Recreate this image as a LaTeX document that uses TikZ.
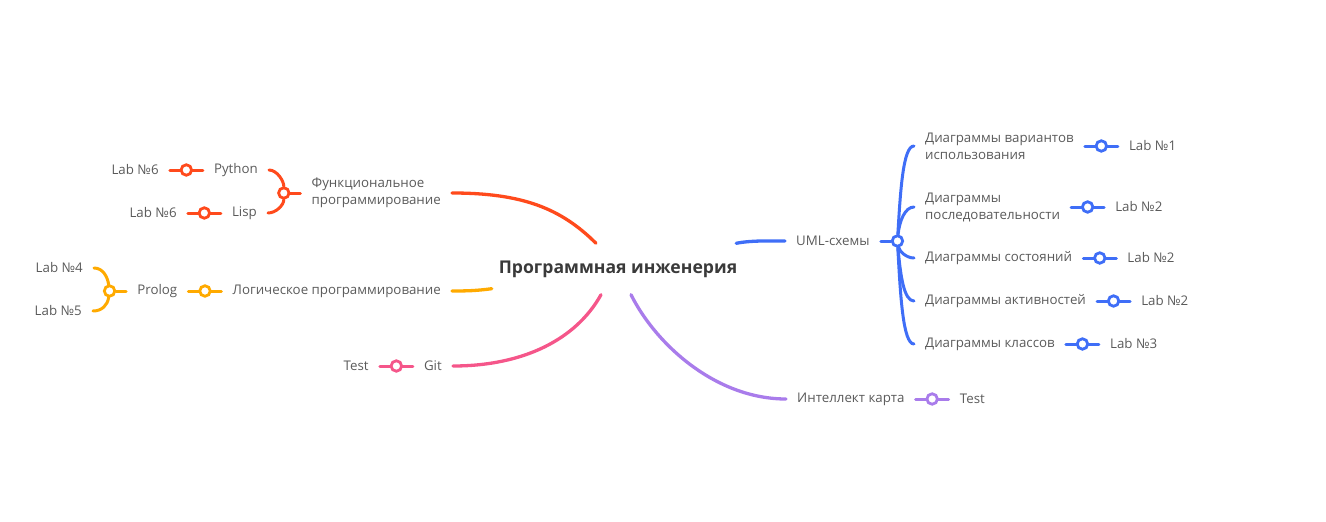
\documentclass[tikz,border=0pt]{standalone}
\usepackage{fontspec}
\setmainfont{Open Sans}
\usetikzlibrary{positioning}
\definecolor{funcred}{HTML}{FF4A1C}
\definecolor{logicorange}{HTML}{FFAA00}
\definecolor{gitpink}{HTML}{F5568A}
\definecolor{mapviolet}{HTML}{A97CEB}
\definecolor{umlblue}{HTML}{3F6EF7}
\definecolor{textgray}{HTML}{5A5A5A}
\definecolor{titlegray}{HTML}{3A3A3A}
\tikzset{
  topic/.style={font=\bfseries\fontsize{17.6}{20}\selectfont, text=titlegray, minimum width=252pt, minimum height=51pt, inner sep=0pt},
  item/.style={font=\fontsize{13.3}{17}\selectfont, text=textgray, inner xsep=11pt, inner ysep=2pt, align=left},
  hub/.style={circle, draw=#1, fill=white, line width=2.8pt, inner sep=0pt, minimum size=10.5pt},
  twig/.style={draw=#1, line width=3pt, line cap=round},
  bough/.style={draw=#1, line width=3.3pt, line cap=round},
}

\begin{document}
\begin{tikzpicture}[x=1pt, y=-1pt]
    \useasboundingbox (0,0) rectangle (1326,522);

    % Central topic
    \node[topic] (title) at (618,269) {Программная инженерия};

    % Main branches
    \node[item, anchor=east] (func) at (452,193) {Функциональное\\программирование};
    \node[item, anchor=east] (logic) at (452,291) {Логическое программирование};
    \node[item, anchor=east] (git) at (453,366) {Git};
    \node[item, anchor=west] (map) at (786,399) {Интеллект карта};
    \node[item, anchor=west] (uml) at (785,241) {UML-схемы};

    \draw[bough=funcred] ([xshift=-22pt]title.north) .. controls +(-35,-35) and +(70,0) .. (func.east);
    \draw[bough=logicorange] ([yshift=6pt]title.south west) .. controls +(-15,2) and +(15,0) .. (logic.east);
    \draw[bough=gitpink] ([xshift=-17pt]title.south) .. controls +(-25,45) and +(70,0) .. (git.east);
    \draw[bough=mapviolet] ([xshift=13pt]title.south) .. controls +(25,50) and +(-70,0) .. (map.west);
    \draw[bough=umlblue] ([xshift=-8pt]title.north east) .. controls +(15,-3) and +(-15,0) .. (uml.west);

    % Functional programming
    \node[hub=funcred, left=10pt of func] (funchub) {};
    \node[item, anchor=east] (python) at (269,170) {Python};
    \node[item, anchor=east] (lisp) at (268,213) {Lisp};
    \node[item, left=33pt of python] (labpy) {Lab №6};
    \node[item, left=33pt of lisp] (lablisp) {Lab №6};
    \draw[twig=funcred] (func.west) -- (funchub);
    \draw[twig=funcred] (funchub) .. controls +(0,-12) and +(8,0) .. (python.east);
    \draw[twig=funcred] (funchub) .. controls +(0,12) and +(8,0) .. (lisp.east);
    \draw[twig=funcred] (labpy) -- node[hub=funcred] (pyhub) {} (python);
    \draw[twig=funcred] (lablisp) -- node[hub=funcred] (lisphub) {} (lisp);

    % Logic programming
    \node[item, left=33pt of logic] (prolog) {Prolog};
    \node[hub=logicorange, left=10pt of prolog] (prologhub) {};
    \node[item, anchor=east] (labfour) at (94,268) {Lab №4};
    \node[item, anchor=east] (labfive) at (93,311) {Lab №5};
    \draw[twig=logicorange] (prolog) -- node[hub=logicorange] (logichub) {} (logic);
    \draw[twig=logicorange] (prolog.west) -- (prologhub);
    \draw[twig=logicorange] (prologhub) .. controls +(-2,-14) and +(9,0) .. (labfour.east);
    \draw[twig=logicorange] (prologhub) .. controls +(-2,14) and +(9,0) .. (labfive.east);

    % Git
    \node[item, left=33pt of git] (gittest) {Test};
    \draw[twig=gitpink] (gittest) -- node[hub=gitpink] (github) {} (git);

    % Mind map
    \node[item, right=33pt of map] (maptest) {Test};
    \draw[twig=mapviolet] (map) -- node[hub=mapviolet] (maphub) {} (maptest);

    % UML diagrams
    \node[hub=umlblue, right=10pt of uml] (umlhub) {};
    \draw[twig=umlblue] (uml.east) -- (umlhub);
    \node[item, anchor=west] (uone) at (914,146) {Диаграммы вариантов\\использования};
    \node[item, anchor=west] (utwo) at (914,207) {Диаграммы\\последовательности};
    \node[item, anchor=west] (uthree) at (914,258) {Диаграммы состояний};
    \node[item, anchor=west] (ufour) at (914,301) {Диаграммы активностей};
    \node[item, anchor=west] (ufive) at (914,344) {Диаграммы классов};
    \draw[twig=umlblue] (umlhub) .. controls +(3,-50) and +(-11,0) .. (uone.west);
    \draw[twig=umlblue] (umlhub) .. controls +(2,-20) and +(-9,0) .. (utwo.west);
    \draw[twig=umlblue] (umlhub) .. controls +(2,10) and +(-8,0) .. (uthree.west);
    \draw[twig=umlblue] (umlhub) .. controls +(3,35) and +(-10,0) .. (ufour.west);
    \draw[twig=umlblue] (umlhub) .. controls +(3,55) and +(-11,0) .. (ufive.west);
    \node[item, right=33pt of uone] (labone) {Lab №1};
    \node[item, right=33pt of utwo] (labtwo) {Lab №2};
    \node[item, right=33pt of uthree] (labthree) {Lab №2};
    \node[item, right=33pt of ufour] (labfour2) {Lab №2};
    \node[item, right=33pt of ufive] (labfive2) {Lab №3};
    \foreach \u/\l in {uone/labone, utwo/labtwo, uthree/labthree, ufour/labfour2, ufive/labfive2}
        \draw[twig=umlblue] (\u) -- node[hub=umlblue] {} (\l);
\end{tikzpicture}
\end{document}
